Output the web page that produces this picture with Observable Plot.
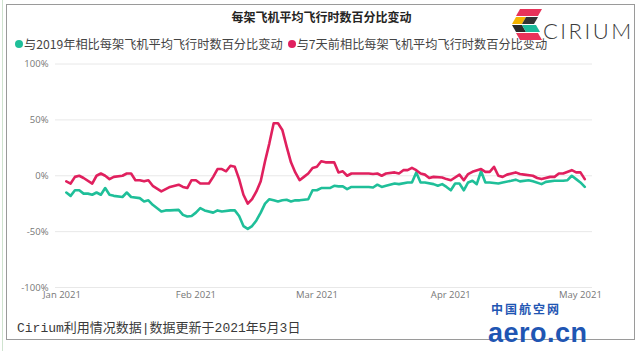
<!DOCTYPE html>
<html><head><meta charset="utf-8">
<script src="https://cdn.jsdelivr.net/npm/d3@7"></script>
<script src="https://cdn.jsdelivr.net/npm/@observablehq/plot@0.6"></script>
<style>
html,body{margin:0;padding:0;background:#fff;}
#wrap{position:relative;width:643px;height:351px;overflow:hidden;font-family:"Noto Sans CJK SC","Noto Sans",sans-serif;}
#card{position:absolute;left:6px;top:4px;width:629px;height:336px;border:1px solid #9a9a9a;box-sizing:border-box;}
#side{position:absolute;left:2px;top:0;width:1px;height:351px;background:#cfe3cf;}
#title{position:absolute;left:0;width:643px;top:8px;text-align:center;font-size:12px;font-weight:bold;color:#252423;}
#legend{position:absolute;left:15px;top:36px;height:16px;font-size:12.2px;line-height:16px;color:#444;white-space:nowrap;display:flex;align-items:center;}
#legend .dot{display:inline-block;width:8px;height:8px;border-radius:50%;margin-right:1px;}
#legend .item{display:flex;align-items:center;margin-right:5px;}
#chart{position:absolute;left:0;top:56px;}
#caption{position:absolute;left:17px;top:317px;font-size:13px;color:#3a3a3a;font-family:"Liberation Mono","Noto Sans CJK SC",monospace;white-space:nowrap;}
#logo{position:absolute;left:512px;top:7px;}
#cirium{position:absolute;left:543px;top:17px;font-family:"Lato","Open Sans",sans-serif;font-size:22px;letter-spacing:2.5px;color:#3b3b3b;font-weight:300;}
#wm1{position:absolute;left:491px;top:302px;line-height:14px;height:14px;font-size:12px;font-weight:bold;color:#1f56b3;letter-spacing:2px;white-space:nowrap;}
#wm2{position:absolute;left:488px;top:320px;font-size:27px;font-weight:900;color:#1f56b3;font-family:"Liberation Sans",sans-serif;letter-spacing:0.5px;line-height:27px;white-space:nowrap;}
</style></head>
<body><div id="wrap">
<div id="side"></div>
<div id="card"></div>
<div id="title">每架飞机平均飞行时数百分比变动</div>
<div id="legend"></div>
<div id="chart"></div>
<div id="caption">Cirium利用情况数据|数据更新于2021年5月3日</div>
<svg id="logo" width="34" height="36" viewBox="0 0 34 36">
  <polygon points="8,2 30,2 26,9 4,9" fill="#e8335a"/>
  <polygon points="4,10 14,10 10,17 0,17" fill="#f4b400"/>
  <polygon points="14,10 26,10 22,17 10,17" fill="#333"/>
  <polygon points="0,18 10,18 14,25 4,25" fill="#2a2a2a"/>
  <polygon points="10,18 24,18 28,25 14,25" fill="#1bb99a"/>
  <polygon points="4,26 26,26 30,33 8,33" fill="#e8335a"/>
</svg>
<div id="cirium">CIRIUM</div>
<div id="wm1">中国航空网</div>
<div id="wm2">aero.cn</div>
</div>
<script>
// days since 2021-01-01
const seriesNames = ["与2019年相比每架飞机平均飞行时数百分比变动", "与7天前相比每架飞机平均飞行时数百分比变动"];
const seriesColors = ["#1fbf99", "#e0205e"];

const greenDay = [1,2,3,4,5,6,7,8,9,10,11,12,14,15,16,18,19,20,21,23,24,25,27,28,29,30,31,32,33,35,36,37,39,40,41,42,43,44,45,46,47,48,49,50,51,52,53,54,55,56,57,58,59,60,62,63,64,65,66,67,69,71,72,73,74,75,77,78,80,81,82,83,84,86,87,88,89,90,91,92,93,94,95,96,97,98,99,101,102,104,105,106,108,109,111,112,114,116,117,118,119,120,121];
const greenVal = [-15,-18,-13,-13,-16,-16,-17,-15,-17,-11,-17,-18,-19,-15,-19,-20,-23,-22,-26,-32,-31,-31,-30.5,-35,-36.5,-36,-33,-29,-31,-33,-31,-32,-31,-31,-36,-45,-47.5,-45,-40,-33,-25,-21,-22,-23,-22,-21.5,-23,-22,-22,-21.5,-21,-13,-13,-11,-11,-9,-9.5,-9.5,-12,-10,-10,-10,-10.5,-8,-10,-9,-7,-7.5,-6,-6,3,-6,-6,-7.5,-9,-7.5,-10,-13,-7,-7,-13,-6,-4.5,-7.5,4,-6,-6,-7,-6,-4.5,-3.5,-5,-4,-5,-7.5,-5.5,-4.5,-4.5,-4,0,-3,-6,-10];

const redDay = [1,2,3,4,5,7,8,9,10,11,12,14,15,16,17,18,19,20,21,23,24,25,27,28,29,30,31,32,33,34,35,36,37,38,39,40,41,42,43,44,45,46,47,48,49,50,51,52,53,54,55,56,57,58,59,60,61,62,63,64,65,66,67,69,71,72,73,74,75,77,78,79,80,81,82,83,84,85,86,88,89,90,92,93,94,95,97,98,99,100,101,102,103,105,106,107,109,110,111,113,114,115,116,118,119,120,121];
const redVal = [-5,-7,-1,0,-2,-7,0,2,0,-3,-1,0,2,2,-4,-4,-5,-4,-9,-14,-12,-10,-8,-10,-11,-4,-4,-7,-7,-7,-1,6,6,4,9,8,-3,-17,-25,-21,-14,-5,13,29,47,47,41,26,12,3,-4,-1,2,7,8,13,12,12,12,3,4,0,2,2,2,1.5,2,0,2,3,2,5,5,7,5,2,1,-2,-1,-1.5,-3,-4,1,-4,1.5,3.5,6,3.5,3.5,8,0,-1,1,3,1.5,1,0,-2,-3,-1,-1,2,2,5,3,3,-3];

const yTicks = [-100,-50,0,50,100];
const xTickLabels = ["Jan 2021","Feb 2021","Mar 2021","Apr 2021","May 2021"];

const start = new Date(Date.UTC(2021,0,1));
const toDate = d => d3.utcDay.offset(start, d);
const greenData = greenDay.map((d,i)=>({date: toDate(d), value: greenVal[i]}));
const redData = redDay.map((d,i)=>({date: toDate(d), value: redVal[i]}));
const xTicks = d3.utcMonth.range(new Date(Date.UTC(2021,0,1)), new Date(Date.UTC(2021,4,2)));

// legend
const leg = document.getElementById("legend");
seriesNames.forEach((n,i)=>{
  const it = document.createElement("span"); it.className="item";
  it.innerHTML = `<span class="dot" style="background:${seriesColors[i]}"></span><span>${n}</span>`;
  leg.appendChild(it);
});

const chart = Plot.plot({
  width: 643,
  height: 254,
  marginLeft: 55,
  marginRight: 51,
  marginTop: 7.5,
  marginBottom: 23,
  style: {fontFamily: "'Open Sans', sans-serif", fontSize: "9.5px", color: "#777", background: "transparent"},
  x: {type: "utc", domain: [new Date(Date.UTC(2020,11,30,12)), new Date(Date.UTC(2021,4,3,19))],
      ticks: xTicks, tickFormat: (d,i) => xTickLabels[xTicks.findIndex(t=>+t===+d)], tickSize: 0, tickPadding: 4, label: null},
  y: {domain: [-100,100], ticks: yTicks, tickFormat: d => d + "%", tickSize: 0, tickPadding: 7, label: null},
  marks: [
    Plot.ruleY(yTicks, {stroke: "#e8e8e8", strokeWidth: 1}),
    Plot.line(greenData, {x: "date", y: "value", stroke: seriesColors[0], strokeWidth: 2.6, strokeLinejoin: "round"}),
    Plot.line(redData, {x: "date", y: "value", stroke: seriesColors[1], strokeWidth: 2.6, strokeLinejoin: "round"})
  ]
});
document.getElementById("chart").appendChild(chart);
</script>
</body></html>
